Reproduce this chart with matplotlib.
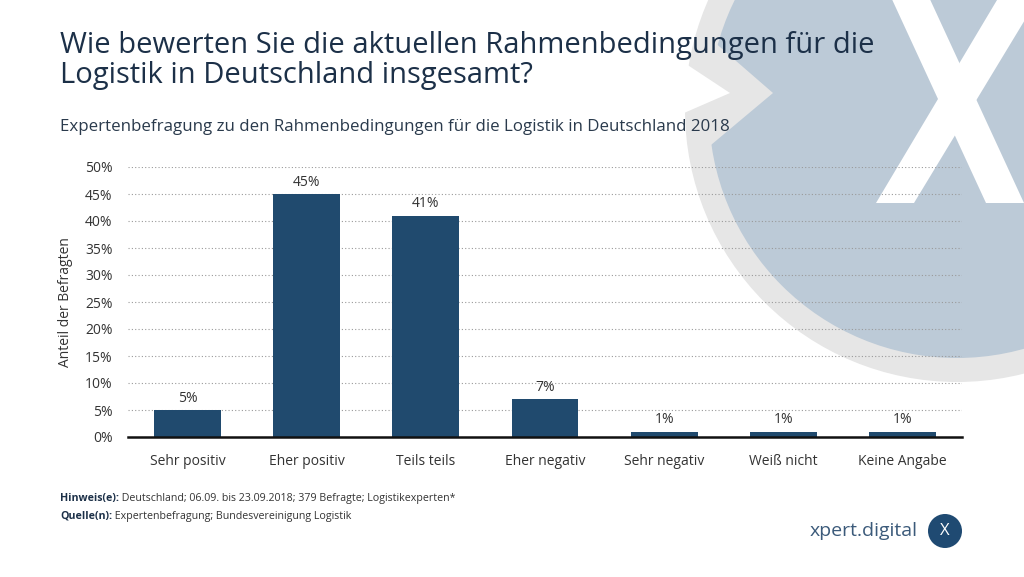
import matplotlib
matplotlib.use("Agg")
import matplotlib.pyplot as plt
from matplotlib.patches import Circle, Polygon

# data
categories = ["Sehr positiv", "Eher positiv", "Teils teils", "Eher negativ",
              "Sehr negativ", "Weiß nicht", "Keine Angabe"]
values = [5, 45, 41, 7, 1, 1, 1]
yticks = [0, 5, 10, 15, 20, 25, 30, 35, 40, 45, 50]

title = "Wie bewerten Sie die aktuellen Rahmenbedingungen für die\nLogistik in Deutschland insgesamt?"
subtitle = "Expertenbefragung zu den Rahmenbedingungen für die Logistik in Deutschland 2018"
note_head = "Hinweis(e):"
note_text = " Deutschland; 06.09. bis 23.09.2018; 379 Befragte; Logistikexperten*"
source_head = "Quelle(n):"
source_text = " Expertenbefragung; Bundesvereinigung Logistik"

plt.rcParams['font.family'] = ['Open Sans', 'DejaVu Sans']

W, H = 1024, 577
fig = plt.figure(figsize=(W / 100, H / 100), dpi=100)
fig.patch.set_facecolor("white")

# background decoration in pixel coordinates
bg = fig.add_axes([0, 0, 1, 1], zorder=-1)
bg.set_xlim(0, W)
bg.set_ylim(H, 0)
bg.axis("off")
bg.add_patch(Circle((957, 110), 272, color="#e6e6e6", lw=0))
bg.add_patch(Circle((957, 110), 248, color="#bccad7", lw=0))
bg.add_patch(Polygon([(705, 34), (773, 93), (705, 150)], closed=True,
                     color="#e6e6e6", lw=0))
bg.add_patch(Polygon([(680, 60), (730, 93), (684, 113)], closed=True,
                     color="white", lw=0))
# big white X
bg.add_patch(Polygon([(890, -5), (928, -5), (1024, 203), (986, 203)],
                     closed=True, color="white", lw=0))
bg.add_patch(Polygon([(1000, -5), (1040, -5), (914, 203), (876, 203)],
                     closed=True, color="white", lw=0))

# logo
bg.text(918, 531, "xpert.digital", fontsize=14, color="#3b5a7a",
        ha="right", va="center")
bg.add_patch(Circle((945, 531), 17, color="#1f4a72", lw=0))
bg.text(945, 531, "X", fontsize=12, color="white", ha="center", va="center")

# titles
title_color = "#1c3048"
fig.text(60 / W, 1 - 31 / H, title, fontsize=21, color=title_color,
         ha="left", va="top", linespacing=1.04)
fig.text(60 / W, 1 - 127 / H, subtitle, fontsize=12.2, color="#2a3a4c",
         ha="left", va="center")

# footer
t = fig.text(60 / W, 1 - 499 / H, note_head, fontsize=7.7, fontweight="bold",
             color="#1c3048", ha="left", va="center")
fig.canvas.draw()
bb = t.get_window_extent()
fig.text(bb.x1 / W, 1 - 499 / H, note_text, fontsize=7.7, color="#333333",
         ha="left", va="center")
t2 = fig.text(60 / W, 1 - 516 / H, source_head, fontsize=7.7, fontweight="bold",
              color="#1c3048", ha="left", va="center")
fig.canvas.draw()
bb2 = t2.get_window_extent()
fig.text(bb2.x1 / W, 1 - 516 / H, source_text, fontsize=7.7, color="#333333",
         ha="left", va="center")

# main chart
ax = fig.add_axes([128 / W, 1 - 437 / H, (962 - 128) / W, (437 - 167) / H])
ax.patch.set_alpha(0)

x = list(range(len(categories)))
bars = ax.bar(x, values, width=0.56, color="#204a6e", zorder=3)

for xi, v in zip(x, values):
    ax.annotate(f"{v}%", (xi, v), xytext=(0, 3), textcoords="offset points",
                ha="center", va="bottom", fontsize=10, color="#333333")

ax.set_xlim(-0.5, len(categories) - 0.5)
ax.set_ylim(0, 50)
ax.set_yticks(yticks)
ax.set_yticklabels([f"{v}%" for v in yticks], fontsize=10, color="#333333")
ax.set_xticks(x)
ax.set_xticklabels(categories, fontsize=10, color="#333333")
ax.tick_params(axis="both", length=0)
ax.tick_params(axis="y", pad=11)
ax.tick_params(axis="x", pad=12)

ax.yaxis.grid(True, linestyle=(0, (1, 2)), color="#9a9a9a", linewidth=0.8)
ax.set_axisbelow(True)
for s in ["top", "right", "left"]:
    ax.spines[s].set_visible(False)
ax.spines["bottom"].set_linewidth(1.8)
ax.spines["bottom"].set_color("#111111")
ax.spines["bottom"].set_zorder(4)

ax.set_ylabel("Anteil der Befragten", fontsize=10, color="#333333", labelpad=9)

fig.savefig("out.png", dpi=100, facecolor="white")
